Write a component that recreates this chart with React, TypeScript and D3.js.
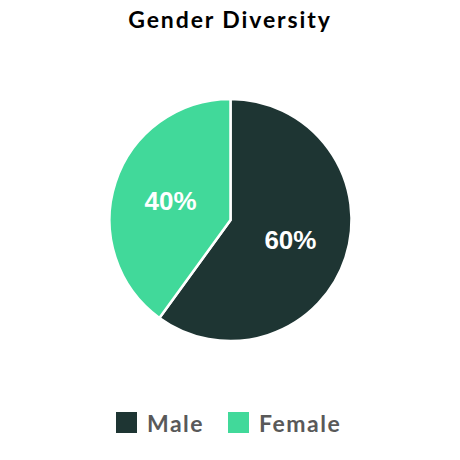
import React, { useEffect, useRef } from "react";
import * as d3 from "d3";

const categories = ["Male", "Female"];
const values = [60, 40];
const colors = ["#1e3533", "#41d99a"];

const width = 460;
const height = 460;

export default function App() {
  const ref = useRef<SVGSVGElement | null>(null);

  useEffect(() => {
    const svg = d3.select(ref.current);
    svg.selectAll("*").remove();

    const data = categories.map((c, i) => ({ name: c, value: values[i], color: colors[i] }));
    const cx = 230.5;
    const cy = 220;
    const radius = 121;

    // title
    svg
      .append("text")
      .attr("x", width / 2)
      .attr("y", 28)
      .attr("text-anchor", "middle")
      .style("font-family", "Lato, 'DejaVu Sans', sans-serif")
      .style("font-weight", "bold")
      .style("font-size", "23px")
      .style("letter-spacing", "1.9px")
      .attr("fill", "#000")
      .text("Gender Diversity");

    const pie = d3
      .pie<{ name: string; value: number; color: string }>()
      .sort(null)
      .value((d) => d.value);
    const arcs = pie(data);

    const arc = d3
      .arc<d3.PieArcDatum<{ name: string; value: number; color: string }>>()
      .innerRadius(0)
      .outerRadius(radius);
    const labelArc = d3
      .arc<d3.PieArcDatum<{ name: string; value: number; color: string }>>()
      .innerRadius(63)
      .outerRadius(63);

    const g = svg.append("g").attr("transform", `translate(${cx},${cy})`);

    g.selectAll("path")
      .data(arcs)
      .enter()
      .append("path")
      .attr("d", arc)
      .attr("fill", (d) => d.data.color)
      .attr("stroke", "#fff")
      .attr("stroke-width", 2.5);

    const total = d3.sum(values);
    g.selectAll("text.label")
      .data(arcs)
      .enter()
      .append("text")
      .attr("class", "label")
      .attr("transform", (d) => `translate(${labelArc.centroid(d)})`)
      .attr("text-anchor", "middle")
      .attr("dy", "0.36em")
      .style("font-family", "'Liberation Sans', Arial, sans-serif")
      .style("font-weight", "bold")
      .style("font-size", "26px")
      .attr("fill", "#fff")
      .text((d) => `${Math.round((d.data.value / total) * 100)}%`);

    // legend
    const legendX = [116, 228];
    const legend = svg
      .selectAll("g.legend")
      .data(data)
      .enter()
      .append("g")
      .attr("class", "legend")
      .attr("transform", (_d, i) => `translate(${legendX[i]},412)`);

    legend
      .append("rect")
      .attr("width", 21)
      .attr("height", 21)
      .attr("fill", (d) => d.color);

    legend
      .append("text")
      .attr("x", 31)
      .attr("y", 20)
      .style("font-family", "Lato, 'DejaVu Sans', sans-serif")
      .style("font-weight", "bold")
      .style("font-size", "23px")
      .style("letter-spacing", "1.5px")
      .attr("fill", "#595959")
      .text((d) => d.name);
  }, []);

  return (
    <svg
      ref={ref}
      width={width}
      height={height}
      style={{ position: "absolute", left: 0, top: 0, background: "#fff" }}
    ></svg>
  );
}
